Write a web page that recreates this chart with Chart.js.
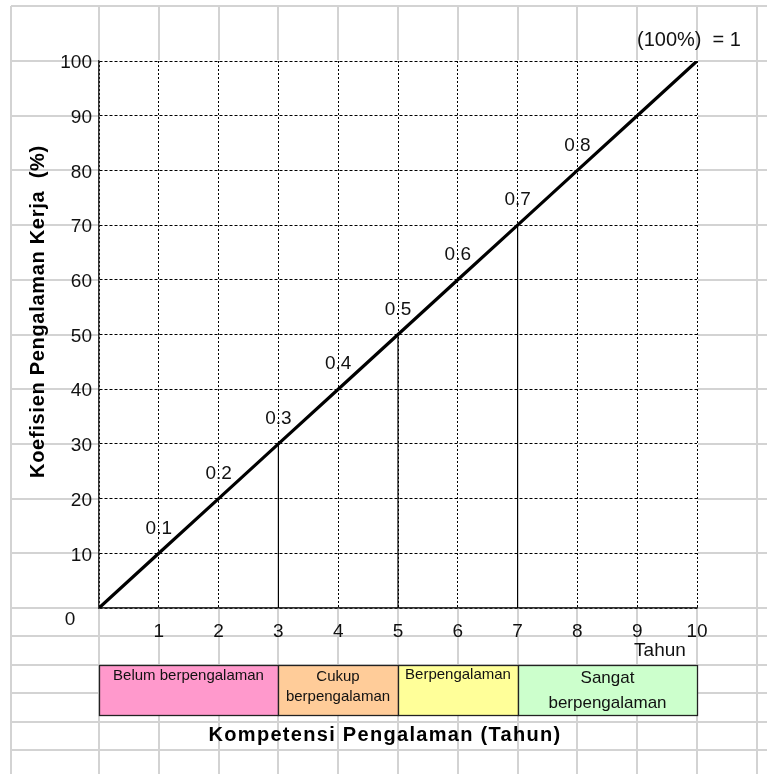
<!DOCTYPE html>
<html><head><meta charset="utf-8">
<script src="https://cdn.jsdelivr.net/npm/chart.js@4.4.0/dist/chart.umd.min.js"></script>
<style>html,body{margin:0;padding:0;background:#fff;overflow:hidden}canvas{display:block}</style>
</head><body>
<canvas id="c" width="767" height="774"></canvas>
<script>
// ---- data ----
const years = [0, 1, 2, 3, 4, 5, 6, 7, 8, 9, 10];
const coefficientPercent = [0, 10, 20, 30, 40, 50, 60, 70, 80, 90, 100];
const ratioYears = [1, 2, 3, 4, 5, 6, 7, 8];
const ratioLabels = ['0.1', '0.2', '0.3', '0.4', '0.5', '0.6', '0.7', '0.8'];
const dropYears = [3, 5, 7];
const dropValues = [30, 50, 70];
const bandEdges = [0, 3, 5, 7, 10];
const bandNames = [['Belum berpengalaman'], ['Cukup', 'berpengalaman'], ['Berpengalaman'], ['Sangat', 'berpengalaman']];
const xAxisTitle = 'Kompetensi Pengalaman (Tahun)';
const yAxisTitle = 'Koefisien Pengalaman Kerja  (%)';
const unitLabel = 'Tahun';
const fullLabel = '(100%)  = 1';
const originLabel = '0';

// ---- styles ----
const FONT = "'Liberation Sans', Arial, Helvetica, sans-serif";
const BAND_FILL = ['#ff99cc', '#ffcc99', '#ffff99', '#ccffcc'];
const BAND_FONT = [15, 15, 15, 17];
const BAND_LINE_Y = [[11], [12, 32], [10], [13, 38]];

const sheetPlugin = {
  id: 'sheet',
  beforeDraw(chart) {
    const { ctx, chartArea: a, scales: { x, y } } = chart;
    const W = chart.width, H = chart.height;
    ctx.save();
    ctx.fillStyle = '#fff';
    ctx.fillRect(0, 0, W, H);
    const cols = [Math.round(a.left - 88)];
    for (let v = 0; v <= 11; v++) cols.push(Math.round(x.getPixelForValue(v)));
    const rows = [Math.round(y.getPixelForValue(110))];
    for (let v = 100; v >= 0; v -= 10) rows.push(Math.round(y.getPixelForValue(v)));
    for (let k = 1; k <= 5; k++) rows.push(Math.round(a.bottom + k * 28.4));
    ctx.strokeStyle = '#d3d3d3';
    ctx.lineWidth = 2;
    ctx.beginPath();
    cols.forEach(cx => { ctx.moveTo(cx, rows[0]); ctx.lineTo(cx, H); });
    rows.forEach(ry => { ctx.moveTo(cols[0], ry); ctx.lineTo(W, ry); });
    ctx.stroke();
    ctx.fillStyle = '#fff';
    ctx.fillRect(a.left, a.top - 1, a.right - a.left + 1, a.bottom - a.top + 1);
    ctx.restore();
  },
  afterDraw(chart) {
    const { ctx, chartArea: a, scales: { x, y } } = chart;
    ctx.save();
    ctx.fillStyle = '#111';
    // ratio labels along the line
    ctx.font = '19px ' + FONT;
    ctx.textAlign = 'center';
    ctx.textBaseline = 'middle';
    ratioYears.forEach((yr, i) => {
      ctx.fillText(ratioLabels[i], x.getPixelForValue(yr), y.getPixelForValue(coefficientPercent[years.indexOf(yr)]) - 25);
    });
    // origin label
    ctx.fillText(originLabel, x.getPixelForValue(0) - 29, y.getPixelForValue(0) + 12);
    // unit label
    ctx.fillText(unitLabel, x.getPixelForValue(10) - 37, y.getPixelForValue(0) + 43);
    // (100%) = 1
    ctx.textAlign = 'left';
    ctx.font = '20px ' + FONT;
    ctx.fillText(fullLabel, x.getPixelForValue(10) - 60, y.getPixelForValue(100) - 21);

    // experience bands
    const bTop = Math.round(a.bottom + 57), bH = 50;
    for (let i = 0; i < bandNames.length; i++) {
      const x0 = Math.round(x.getPixelForValue(bandEdges[i]));
      const x1 = Math.round(x.getPixelForValue(bandEdges[i + 1]));
      ctx.fillStyle = BAND_FILL[i];
      ctx.fillRect(x0, bTop, x1 - x0, bH);
      ctx.strokeStyle = '#222';
      ctx.lineWidth = 1.3;
      ctx.strokeRect(x0 + 0.5, bTop + 0.5, x1 - x0, bH);
      ctx.fillStyle = '#111';
      ctx.font = BAND_FONT[i] + 'px ' + FONT;
      ctx.textAlign = 'center';
      ctx.textBaseline = 'middle';
      bandNames[i].forEach((t, j) => ctx.fillText(t, (x0 + x1) / 2, bTop + BAND_LINE_Y[i][j]));
    }

    // axis titles
    ctx.fillStyle = '#000';
    ctx.font = 'bold 20px ' + FONT;
    ctx.textAlign = 'center';
    ctx.textBaseline = 'middle';
    try { ctx.letterSpacing = '1.3px'; } catch (e) {}
    ctx.fillText(xAxisTitle, (a.left + a.right) / 2 - 13, a.bottom + 127);
    try { ctx.letterSpacing = '0.7px'; } catch (e) {}
    ctx.translate(a.left - 61, (a.top + a.bottom) / 2 - 23);
    ctx.rotate(-Math.PI / 2);
    ctx.fillText(yAxisTitle, 0, 0);
    try { ctx.letterSpacing = '0px'; } catch (e) {}
    ctx.restore();
  }
};

const lineData = years.map((yr, i) => ({ x: yr, y: coefficientPercent[i] }));
const dropSets = dropYears.map((yr, i) => ({
  data: [{ x: yr, y: 0 }, { x: yr, y: dropValues[i] }],
  borderColor: '#000', borderWidth: 1.2, pointRadius: 0, order: 2
}));

new Chart(document.getElementById('c'), {
  type: 'line',
  data: {
    datasets: [
      { data: lineData, borderColor: '#000', borderWidth: 3.2, pointRadius: 0, tension: 0, order: 1 },
      ...dropSets
    ]
  },
  options: {
    responsive: false,
    animation: false,
    devicePixelRatio: 1,
    layout: { padding: { top: 61, right: 70, bottom: 0, left: 0 } },
    plugins: { legend: { display: false }, tooltip: { enabled: false } },
    scales: {
      x: {
        type: 'linear', min: 0, max: 10,
        afterFit(s) { s.height = 166; },
        ticks: {
          stepSize: 1, maxRotation: 0, autoSkip: false, padding: 12, color: '#111',
          font: { family: FONT, size: 19 },
          callback: v => (v === 0 ? '' : v)
        },
        grid: { color: '#000', lineWidth: 1, drawTicks: false },
        border: { display: true, color: '#333', width: 1.5, dash: [2, 2] }
      },
      y: {
        min: 0, max: 100,
        afterFit(s) { s.width = 99; },
        ticks: {
          stepSize: 10, padding: 7, labelOffset: 2, color: '#111',
          font: { family: FONT, size: 19 },
          callback: v => (v === 0 ? '' : v)
        },
        grid: { color: '#000', lineWidth: 1, drawTicks: false },
        border: { display: true, color: '#333', width: 1.5, dash: [3, 2] }
      }
    }
  },
  plugins: [sheetPlugin]
});
</script>
</body></html>
